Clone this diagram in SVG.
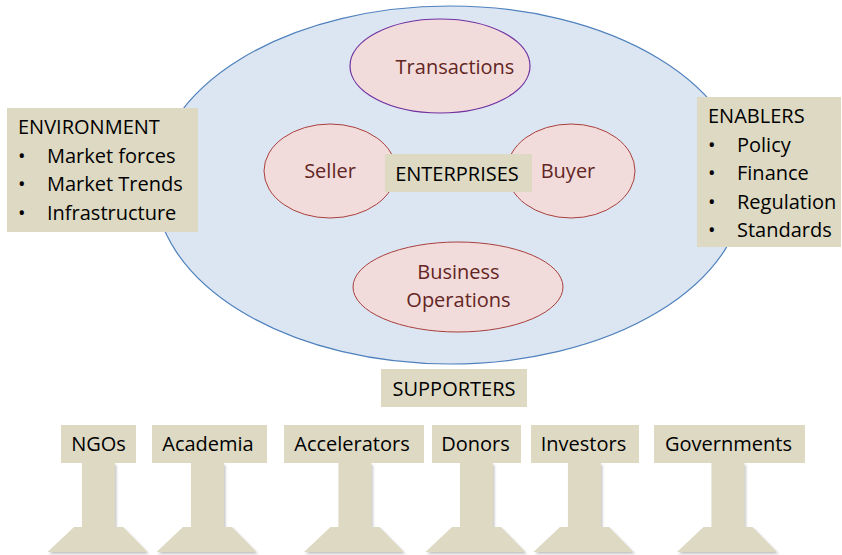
<svg xmlns="http://www.w3.org/2000/svg" width="842" height="555" viewBox="0 0 842 555">
  <style>
    text { font-family: "Open Sans", "Liberation Sans", sans-serif; font-size: 20px; }
    .box { fill: #DDD9C3; }
    .lbl { fill: #000000; }
    .mid { text-anchor: middle; }
    .inner { fill: #F2DCDB; stroke: #A8403D; stroke-width: 1; }
    .inner-txt { fill: #632523; text-anchor: middle; }
    .pedestal { fill: #DDD9C3; filter: url(#shadow); }
  </style>
  <defs>
    <filter id="shadow" x="-20%" y="-20%" width="140%" height="140%">
      <feDropShadow dx="1.5" dy="2" stdDeviation="1" flood-color="#7f7f7f" flood-opacity="0.45"/>
    </filter>
    <!-- pedestal: stem under a label plus a trapezoid foot, centred on x=0 -->
    <path id="pedestal" d="M-16.5,0 H16.5 V64 H24.5 L49,89 H-51 L-24.5,64 H-16.5 Z"/>
  </defs>

  <!-- enterprise ellipse -->
  <g id="enterprise-field">
    <ellipse cx="450" cy="185" rx="295" ry="179" fill="#DCE6F2" stroke="#4F81BD" stroke-width="1.2"/>
  </g>

  <g id="transactions">
    <ellipse cx="440" cy="66" rx="90" ry="47" fill="#F2DCDB" stroke="#7030A0" stroke-width="1.2"/>
    <text class="inner-txt" x="455" y="74">Transactions</text>
  </g>

  <g id="seller">
    <ellipse class="inner" cx="330" cy="171" rx="66" ry="47"/>
    <text class="inner-txt" x="330" y="178">Seller</text>
  </g>

  <g id="buyer">
    <ellipse class="inner" cx="571" cy="171" rx="64" ry="47"/>
    <text class="inner-txt" x="568" y="178">Buyer</text>
  </g>

  <g id="business-operations">
    <ellipse class="inner" cx="458" cy="287" rx="105" ry="45"/>
    <text class="inner-txt" x="458.5" y="279">Business</text>
    <text class="inner-txt" x="458.5" y="307">Operations</text>
  </g>

  <g id="enterprises">
    <rect class="box" x="385" y="154" width="147" height="38"/>
    <text class="lbl mid" x="457" y="181">ENTERPRISES</text>
  </g>

  <g id="environment">
    <rect class="box" x="7" y="108" width="191" height="124"/>
    <text class="lbl" x="18" y="134">ENVIRONMENT</text>
    <text class="lbl" x="18" y="162.5">•</text>
    <text class="lbl" x="47" y="162.5">Market forces</text>
    <text class="lbl" x="18" y="191">•</text>
    <text class="lbl" x="47" y="191">Market Trends</text>
    <text class="lbl" x="18" y="219.5">•</text>
    <text class="lbl" x="47" y="219.5">Infrastructure</text>
  </g>

  <g id="enablers">
    <rect class="box" x="697" y="97" width="144" height="150"/>
    <text class="lbl" x="708" y="123">ENABLERS</text>
    <text class="lbl" x="708" y="151.5">•</text>
    <text class="lbl" x="737" y="151.5">Policy</text>
    <text class="lbl" x="708" y="180">•</text>
    <text class="lbl" x="737" y="180">Finance</text>
    <text class="lbl" x="708" y="208.5">•</text>
    <text class="lbl" x="737" y="208.5">Regulation</text>
    <text class="lbl" x="708" y="237">•</text>
    <text class="lbl" x="737" y="237">Standards</text>
  </g>

  <g id="supporters">
    <rect class="box" x="381" y="369" width="146" height="38"/>
    <text class="lbl mid" x="454" y="396">SUPPORTERS</text>
  </g>

  <!-- supporter pillars -->
  <g id="ngos">
    <use href="#pedestal" class="pedestal" x="98.5" y="463"/>
    <rect class="box" x="61" y="425" width="75" height="38"/>
    <text class="lbl mid" x="98.5" y="451">NGOs</text>
  </g>

  <g id="academia">
    <use href="#pedestal" class="pedestal" x="207.5" y="463"/>
    <rect class="box" x="152" y="425" width="115" height="38"/>
    <text class="lbl mid" x="208" y="451">Academia</text>
  </g>

  <g id="accelerators">
    <use href="#pedestal" class="pedestal" x="355" y="463"/>
    <rect class="box" x="284" y="425" width="140" height="38"/>
    <text class="lbl mid" x="352" y="451">Accelerators</text>
  </g>

  <g id="donors">
    <use href="#pedestal" class="pedestal" x="476.5" y="463"/>
    <rect class="box" x="432" y="425" width="89" height="38"/>
    <text class="lbl mid" x="475.5" y="451">Donors</text>
  </g>

  <g id="investors">
    <use href="#pedestal" class="pedestal" x="584.5" y="463"/>
    <rect class="box" x="531" y="425" width="108" height="38"/>
    <text class="lbl mid" x="583.5" y="451">Investors</text>
  </g>

  <g id="governments">
    <use href="#pedestal" class="pedestal" x="728" y="463"/>
    <rect class="box" x="654" y="425" width="151" height="38"/>
    <text class="lbl mid" x="728.5" y="451">Governments</text>
  </g>

  <g id="connectors"/>
</svg>
